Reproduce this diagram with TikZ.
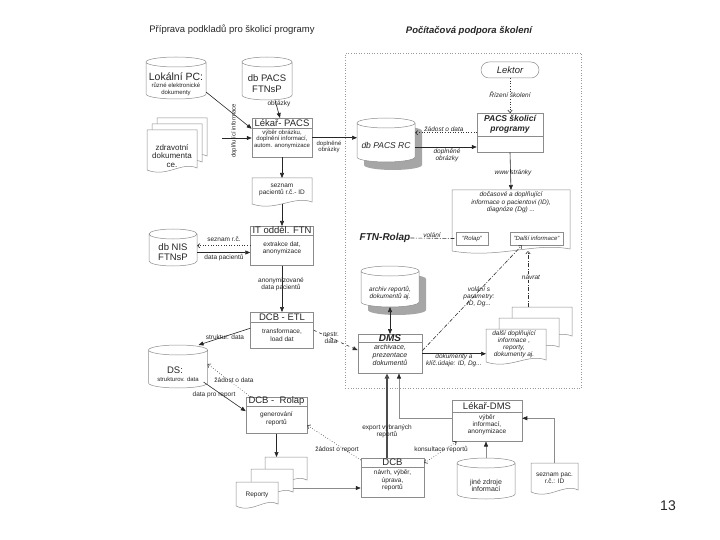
\documentclass[tikz,border=0pt]{standalone}
\usepackage{fontspec}
\setmainfont{Liberation Sans}
\usetikzlibrary{arrows.meta,calc}
\newcommand{\setfs}[2]{\fontsize{#1}{#2}\selectfont}
\newcommand{\mlines}[3]{{\setfs{#1}{#2}\begin{tabular}{@{}c@{}}#3\end{tabular}}}
\newcommand{\dbcyl}[6][]{%
  \pgfmathsetmacro\cylrx{#5/2}%
  \path[cylstyle,#1] (#3-\cylrx,#4+5) -- (#3-\cylrx,#4+#6-5)
    arc[start angle=180,end angle=360,x radius=\cylrx pt,y radius=5pt]
    -- (#3+\cylrx,#4+5)
    arc[start angle=0,end angle=180,x radius=\cylrx pt,y radius=5pt]
    arc[start angle=180,end angle=360,x radius=\cylrx pt,y radius=5pt];
  \node[ghost,minimum width=#5pt,minimum height=#6pt] (#2) at (#3,#4+#6/2) {};
}
\newcommand{\docshape}[5][]{%
  \path[docstyle,#1] (#2,#3) -- (#4,#3) -- (#4,#5-2)
    .. controls ({#4-0.3*(#4-#2)},{#5-9}) and ({#2+0.4*(#4-#2)},{#5+8}) .. (#2,#5) -- cycle;
}
\newcommand{\tbox}[9]{%
  \node[boxframe,minimum width=#4pt,minimum height=#5pt,anchor=north] (#1) at (#2,#3) {};
  \draw[boxline] (#2-#4/2,#3+#6) -- (#2+#4/2,#3+#6);
  \node[txt] (#1t) at (#2,#3+#6/2) {#8};
  \node[txt] (#1b) at (#2,#7) {#9};
}
\tikzset{
 ghost/.style={inner sep=0pt,outer sep=0pt,draw=none},
 cylstyle/.style={draw=black!45,line width=0.5pt,fill=white},
 shadowcyl/.style={draw=none,fill=black!35},
 docstyle/.style={draw=black!45,line width=0.5pt,fill=white},
 boxframe/.style={draw=black!45,line width=0.5pt,fill=white,inner sep=0pt},
 boxline/.style={draw=black!45,line width=0.5pt},
 smallbox/.style={draw=black!45,line width=0.5pt,fill=white,inner sep=0pt,minimum height=13pt,font=\setfs{6}{7}\itshape,text=black!85},
 txt/.style={inner sep=0pt,align=center,text=black!85},
 lbl/.style={txt,font=\setfs{6.5}{7}},
 ilbl/.style={txt,font=\setfs{6.5}{7}\itshape},
 arr/.style={draw=black!85,line width=0.6pt,-{Triangle[length=5pt,width=4pt]}},
 garr/.style={draw=black!45,line width=0.6pt,-{Triangle[length=5pt,width=4pt,color=black!85]}},
 biarr/.style={draw=black!85,line width=0.6pt,{Triangle[length=5pt,width=4pt]}-{Triangle[length=5pt,width=4pt]}},
 thickarr/.style={draw=black!70,line width=1.4pt,-{Triangle[length=5pt,width=4.5pt]}},
 dotarr/.style={draw=black!80,line width=0.6pt,dotted,-{Straight Barb[length=2.5pt,width=4.5pt]}},
 dashtri/.style={draw=black!80,line width=0.6pt,dashed,-{Triangle[length=5pt,width=4pt]}},
 dashdotline/.style={draw=black!80,line width=0.6pt,dash pattern=on 4pt off 1.5pt on 1pt off 1.5pt},
 dashdotarr/.style={dashdotline,-{Straight Barb[length=2.5pt,width=4.5pt]}},
}
\begin{document}
\begin{tikzpicture}[x=1pt,y=-1pt]
\useasboundingbox (0,0) rectangle (720,540);
\node[txt,font=\setfs{9.5}{11}] (title1) at (232,30) {Příprava podkladů pro školicí programy};
\node[txt,font=\setfs{9.5}{11}\bfseries\itshape] (title2) at (469,31) {Počítačová podpora školení};
\node[draw=black!40,dotted,line width=0.6pt,inner sep=0pt,minimum width=236pt,minimum height=335pt,anchor=north west] (frame) at (345,53) {};

% ---- left column
\dbcyl{lpc}{176}{57}{60}{42}
\node[txt,font=\setfs{10.5}{11}] (lpcT) at (176,77) {Lokální PC:};
\node[txt,font=\setfs{6}{7}] (lpcS) at (176,89.5) {různé elektronické\\dokumenty};

\dbcyl{pacs}{267}{57}{50}{43}
\node[txt,font=\setfs{9.5}{11}] (pacsT) at (267,83.5) {db PACS\\FTNsP};
\node[lbl] (obrL) at (279,103.5) {obrázky};

\tbox{lpacs}{282}{118}{60}{39}{10}{139.5}{\setfs{9.5}{10}Lékař- PACS}{\mlines{6}{6.5}{výběr obrázku,\\doplnění informací,\\autom. anonymizace}}

\docshape{157}{118}{207}{158}
\docshape{152}{124}{202}{164}
\docshape{147}{130}{197}{170}
\node[ghost,minimum width=50pt,minimum height=40pt] (zdr) at (172,150) {};
\node[txt,font=\setfs{8}{8.2}] (zdrT) at (172,156) {zdravotní\\dokumenta\\ce.};
\node[txt,font=\setfs{6}{7},rotate=90] (dopT) at (234,131) {doplňující informace};

\docshape{252}{178}{312}{204}
\node[ghost,minimum width=60pt,minimum height=26pt] (seznam) at (282,191) {};
\node[lbl] (seznamT) at (282,189.5) {seznam\\pacientů r.č.- ID};

\dbcyl{nis}{173}{229}{48}{37}
\node[txt,font=\setfs{9.5}{10}] (nisT) at (173,252) {db NIS\\FTNsP};

\tbox{it}{282}{226}{63}{39}{9}{248.5}{\setfs{9.5}{10}IT odděl. FTN}{\mlines{6.5}{7}{extrakce dat,\\anonymizace}}
\tbox{etl}{282}{312}{63}{36}{10}{336}{\setfs{9.5}{10}DCB - ETL}{\mlines{6.5}{8}{transformace,\\load dat}}

\dbcyl{ds}{178}{345}{59}{43}
\node[txt,font=\setfs{9.5}{10}] (dsT) at (175,370) {DS:};
\node[txt,font=\setfs{6}{7}] (dsS) at (178,379) {strukturov. data};

\tbox{rolap}{276.5}{397}{61}{36}{9}{419}{\setfs{9.5}{10}DCB -\ \ Rolap}{\mlines{6.5}{8}{generování\\reportů}}

\docshape{265}{457}{307}{482}
\docshape{251}{469}{293}{494}
\docshape{236}{482}{278}{506}
\node[ghost,minimum width=42pt,minimum height=25pt] (repback) at (286,469.5) {};
\node[lbl] (repT) at (257,495) {Reporty};
\coordinate (repout) at (293,488);

\tbox{dcb}{392.5}{458}{63}{39}{9}{480.5}{\setfs{9.5}{10}DCB}{\mlines{6.5}{7.5}{návrh, výběr,\\úprava,\\reportů}}

% ---- right part
\node[draw=black!45,line width=0.5pt,fill=white,rounded corners=8pt,minimum width=58pt,minimum height=16pt,inner sep=0pt,font=\setfs{9.5}{10}\itshape,text=black!85] (lektor) at (510,70) {Lektor};
\tbox{pacsk}{510}{113}{66}{39}{23}{144}{\bfseries\itshape\mlines{8.5}{10}{PACS školicí\\programy}}{}

\dbcyl[shadowcyl]{rcsh}{393}{126}{58}{44}
\dbcyl{rc}{386}{118}{58}{44}
\node[txt,font=\setfs{8.5}{10}\itshape] (rcT) at (386,145) {db PACS RC};

\docshape{452}{190}{570}{251}
\node[ghost,minimum width=118pt,minimum height=61pt] (infodoc) at (511,220.5) {};
\node[txt,font=\setfs{6.5}{7.5}\itshape] (infoT) at (511,202.5) {dočasové a doplňující\\informace o pacientovi (ID),\\diagnóze (Dg) ...};
\node[smallbox,minimum width=32pt] (rolapbox) at (472,238.5) {"Rolap"};
\node[smallbox,minimum width=53pt] (dalsi) at (536.5,238.5) {"Další informace"};
\node[txt,font=\setfs{10}{11}\bfseries\itshape] (ftn) at (385,238) {FTN-Rolap};

\dbcyl[shadowcyl]{archsh}{397}{274}{58}{41}
\dbcyl{arch}{390}{266}{58}{41}
\node[ilbl] (archT) at (390,293.5) {archiv reportů,\\dokumentů aj.};

\tbox{dms}{390}{334}{64}{39}{8}{356}{\setfs{10}{10}\bfseries\itshape DMS}{\itshape\mlines{7}{8}{archivace,\\prezentace\\dokumentů}}

\docshape{512}{307}{572}{338}
\docshape{499}{318}{559}{349}
\docshape{486}{329}{546}{362}
\node[ghost,minimum width=60pt,minimum height=33pt] (dalsidoc) at (516,345.5) {};
\node[ilbl] (dalsiT) at (514,344.5) {další doplňující\\informace ,\\reporty,\\dokumenty aj.};

\tbox{lekdms}{487}{400}{70}{41}{12}{425}{\setfs{9.5}{10}Lékař-DMS}{\mlines{6.5}{7}{výběr\\informací,\\anonymizace}}

\dbcyl{jine}{486}{458}{58}{41}
\node[txt,font=\setfs{7}{7}] (jineT) at (486,485) {jiné zdroje\\informací};

\docshape{531}{463}{578}{492}
\node[ghost,minimum width=47pt,minimum height=29pt] (spac) at (554.5,477.5) {};
\node[lbl] (spacT) at (554.5,478) {seznam pac.\\r.č.: ID};

\node[txt,font=\setfs{14}{16}] (pnum) at (668,505.5) {13};

% ---- connectors
\draw[arr] ([xshift=8pt]pacs.south) -- ([xshift=-2pt]lpacs.north);
\draw[arr] ([yshift=7pt]lpc.south east) -- ([yshift=9pt]lpacs.west);
\coordinate (zdrout) at (222,138);
\draw[arr] (zdrout) -- (zdrout -| lpacs.west);
\draw[arr] (lpacs.south) -- (seznam.north);
\draw[arr] (lpacs.east) -- (lpacs.east -| rc.west);
\node[txt,font=\setfs{6}{6.5}] (dopObrL) at (329,147) {doplněné\\obrázky};

\draw[dotarr] (lektor.south) -- (pacsk.north);
\node[ilbl,fill=white,inner sep=0.5pt] (rizL) at (510,95) {Řízení školení};
\draw[dotarr] (pacsk.west) -- (pacsk.west -| rc.east);
\node[ilbl] (zadL) at (444,129) {žádost o data};
\draw[arr] ([yshift=-7pt]rc.east) -- ([yshift=-7pt]rc.east -| pacsk.west);
\node[ilbl] (dopObr2L) at (447,155) {doplněné\\obrázky};
\draw[arr] (pacsk.south) -- (infodoc.north);
\node[ilbl] (wwwL) at (513,173) {www stránky};

\draw[dashdotline] (ftn.east) -- (rolapbox.west);
\node[ilbl,anchor=south] (volL) at (432,237.5) {volání};
\draw[dashdotarr] ([yshift=3pt]dms.east) -- ([xshift=-14.5pt]dalsi.south);
\node[ilbl] (volParL) at (479,297) {volání s\\parametry:\\ID, Dg...};
\coordinate (navS) at (528,307);
\draw[dashdotarr] (navS) -- (navS |- infodoc.south);
\node[ilbl,fill=white,inner sep=0.5pt] (navL) at (531,277) {návrat};

\draw[biarr] (arch.south) -- (dms.north);
\draw[dashtri] (etl.east) -- ([yshift=3.5pt]dms.west);
\node[lbl] (nestrL) at (331,338) {nestr.\\data};
\draw[arr] (dms.east) -- (dms.east -| dalsidoc.west);
\node[ilbl] (dokL) at (454,360.5) {dokumenty a\\klíč.údaje: ID, Dg...};

\draw[arr] (seznam.south) -- (it.north);
\draw[dotarr] (it.west) -- (it.west -| nis.east);
\node[lbl] (sezRcL) at (224,239) {seznam r.č.};
\draw[arr] ([yshift=-5pt]nis.east) -- ([yshift=-5pt]nis.east -| it.west);
\node[lbl] (dataPacL) at (224,258) {data pacientů};
\draw[arr] (it.south) -- (etl.north);
\node[lbl] (anonL) at (281,284.5) {anonymizované\\data pacientů};

\draw[arr] ([yshift=2pt]etl.west) -- ([xshift=-9pt]ds.north east);
\node[lbl] (strL) at (225,337) {struktur. data};
\draw[dotarr] ([xshift=5pt]rolap.north west) -- ([yshift=2.5pt]ds.east);
\node[lbl] (zadDL) at (234,380) {žádost o data};
\draw[arr] ([xshift=-4pt,yshift=6pt]ds.south east) -- ([yshift=4pt]rolap.west);
\node[lbl] (dprL) at (214,395) {data pro report};

\draw[arr] (rolap.south) -- (rolap.south |- repback.north);
\draw[garr] (repout) -- (repout -| dcb.west);
\draw[dotarr] ([yshift=-2pt]dcb.north west) -- ([yshift=-10pt]rolap.east);
\node[lbl] (zadRL) at (337,450) {žádost o report};

\draw[thickarr] ([xshift=-5.5pt]dcb.north) -- ([xshift=-5.5pt]dcb.north |- dms.south);
\node[lbl] (expL) at (387,431.5) {export vybraných\\reportů};
\draw[garr] ([yshift=2.5pt]lekdms.west) -| ([xshift=9pt]dms.south);
\draw[dotarr,{Straight Barb[length=2.5pt,width=4.5pt]}-{Straight Barb[length=2.5pt,width=4.5pt]}] ([yshift=-5pt]dcb.north east) -- ([xshift=5pt]lekdms.south west);
\node[lbl] (konL) at (441,450) {konsultace reportů};
\draw[garr] (jine.north) -- (jine.north |- lekdms.south);
\draw[garr] (spac.north) |- ([yshift=2.5pt]lekdms.east);
\end{tikzpicture}
\end{document}
